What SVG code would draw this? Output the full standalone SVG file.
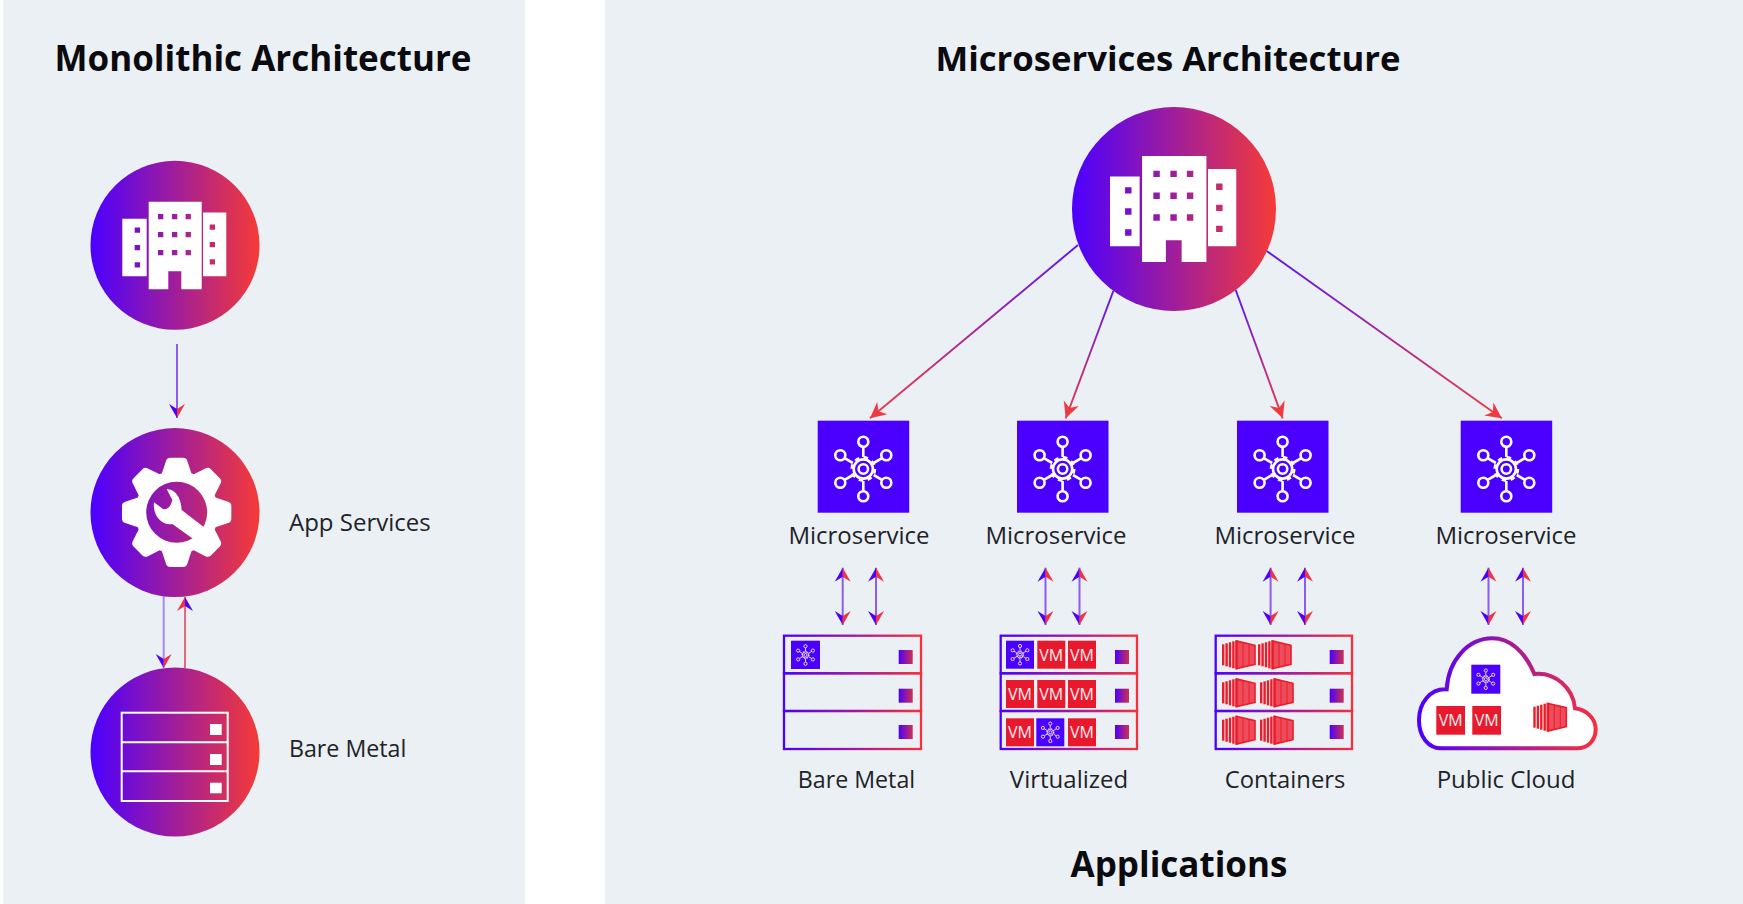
<svg xmlns="http://www.w3.org/2000/svg" xmlns:xlink="http://www.w3.org/1999/xlink" width="1743" height="904" viewBox="0 0 1743 904">
<style>
.panel{fill:#eaf0f4}
.title{font-family:"Open Sans","Liberation Sans",sans-serif;font-weight:700;font-size:35px;fill:#0b0b0f;text-anchor:middle}
.lbl{font-family:"Open Sans","Liberation Sans",sans-serif;font-size:24px;fill:#1f2328}
.sm{font-size:23.2px}
.mid{text-anchor:middle}
.tile{fill:#4b00ff}
.vm{fill:#e8192c}
.vmt{font-family:"Open Sans","Liberation Sans",sans-serif;font-size:16px;fill:#fdeef0;text-anchor:middle}
.srv{fill:none;stroke:url(#gs);stroke-width:2.3}
.led{fill:url(#gl)}
.wh{fill:#fff}
.ol{fill:none;stroke:#fff;stroke-width:2}
.ic{fill:none;stroke:#fff;stroke-width:2.6}
.solid{fill:none;stroke-width:2}
.diag{fill:none;stroke-width:1.9;marker-end:url(#mred)}
.dbl{fill:none;stroke:#8a5cf0;stroke-width:2;marker-start:url(#mstart);marker-end:url(#msplit)}
</style>
<defs>
<linearGradient id="gc" x1="0" y1="0" x2="1" y2="0"><stop offset="0" stop-color="#4b00ff"/><stop offset="1" stop-color="#f53b36"/></linearGradient>
<linearGradient id="gs" x1="0" y1="0" x2="1" y2="0"><stop offset="0" stop-color="#4b00ff"/><stop offset="1" stop-color="#f5303f"/></linearGradient>
<linearGradient id="gl" x1="0" y1="0" x2="1" y2="0"><stop offset="0" stop-color="#4b00ff"/><stop offset="1" stop-color="#d0304f"/></linearGradient>
<linearGradient id="gh" gradientUnits="userSpaceOnUse" x1="90.5" y1="0" x2="259.5" y2="0"><stop offset="0" stop-color="#4b00ff"/><stop offset="1" stop-color="#f53b36"/></linearGradient>
<linearGradient id="d1" gradientUnits="userSpaceOnUse" x1="1078" y1="245" x2="870" y2="418"><stop offset="0" stop-color="#5a14f5"/><stop offset="1" stop-color="#f23c42"/></linearGradient>
<linearGradient id="d2" gradientUnits="userSpaceOnUse" x1="1113" y1="291" x2="1066" y2="418"><stop offset="0" stop-color="#5a14f5"/><stop offset="1" stop-color="#f23c42"/></linearGradient>
<linearGradient id="d3" gradientUnits="userSpaceOnUse" x1="1236" y1="290" x2="1283" y2="418"><stop offset="0" stop-color="#5a14f5"/><stop offset="1" stop-color="#f23c42"/></linearGradient>
<linearGradient id="d4" gradientUnits="userSpaceOnUse" x1="1267" y1="251" x2="1502" y2="418"><stop offset="0" stop-color="#5a14f5"/><stop offset="1" stop-color="#f23c42"/></linearGradient>
<marker id="mred" markerUnits="userSpaceOnUse" markerWidth="1" markerHeight="1" refX="0" refY="0" orient="auto" overflow="visible"><path d="M0 0L-16 -8L-11 0L-16 8Z" fill="#f03a42"/></marker>
<marker id="msplit" markerUnits="userSpaceOnUse" markerWidth="1" markerHeight="1" refX="0" refY="0" orient="auto" overflow="visible"><path d="M0 0L-14 8L-9 0Z" fill="#4b00ff"/><path d="M0 0L-14 -8L-9 0Z" fill="#f5303f"/></marker>
<marker id="mstart" markerUnits="userSpaceOnUse" markerWidth="1" markerHeight="1" refX="0" refY="0" orient="auto" overflow="visible"><path d="M0 0L14 8L9 0Z" fill="#4b00ff"/><path d="M0 0L14 -8L9 0Z" fill="#f5303f"/></marker>
<path id="building" fill="#fff" fill-rule="evenodd" d="M-52.7 -26.7H-28.3V30.7H-52.7ZM-26.3 -43.7H26.7V43.7H6.3V25.7H-6.7V43.7H-26.3ZM28 -33H51.3V30.7H28Z
M-17 -31.6h5.3v5.3h-5.3zM-3 -31.6h5.3v5.3h-5.3zM10.6 -31.6h5.3v5.3h-5.3z
M-17 -13.6h5.3v5.3h-5.3zM-3 -13.6h5.3v5.3h-5.3zM10.6 -13.6h5.3v5.3h-5.3z
M-17 4.4h5.3v5.3h-5.3zM-3 4.4h5.3v5.3h-5.3zM10.6 4.4h5.3v5.3h-5.3z
M-40.3 -18h5.3v5.3h-5.3zM-40.3 -0.6h5.3v5.3h-5.3zM-40.3 16.7h5.3v5.3h-5.3z
M34.7 -21h5.3v5.3h-5.3zM34.7 -3.6h5.3v5.3h-5.3zM34.7 13.7h5.3v5.3h-5.3z"/>
<path id="tooth" fill="#fff" d="M-46 -112L-32 -154Q-29 -164 -19 -164L19 -164Q29 -164 32 -154L46 -112Z"/>
<g id="mic">
<circle class="ic" r="4.7"/>
<circle class="ic" r="9.6"/>
<circle r="11.6" fill="none" stroke="#fff" stroke-width="2.6" stroke-dasharray="4.55 4.55"/>
<path class="ic" d="M0 -12V-22M0 12V22M10.4 -6L18.7 -10.8M10.4 6L18.7 10.8M-10.4 -6L-18.7 -10.8M-10.4 6L-18.7 10.8"/>
<circle class="ic" cy="-27.3" r="5"/><circle class="ic" cy="27.3" r="5"/>
<circle class="ic" cx="23" cy="-13.7" r="5"/><circle class="ic" cx="23" cy="13.7" r="5"/>
<circle class="ic" cx="-23" cy="-13.7" r="5"/><circle class="ic" cx="-23" cy="13.7" r="5"/>
</g>
<g id="box">
<g fill="#ec1c2a">
<rect x="0" y="4" width="2.4" height="21"/><rect x="3.4" y="3" width="2.4" height="23"/><rect x="6.8" y="2" width="2.4" height="25"/><rect x="10.2" y="1" width="2.4" height="27"/><rect x="13.2" y="0" width="2.4" height="29"/>
</g>
<path d="M15 .8L33 5V24L15 28.2Z" fill="#ec4c5c" stroke="#ec1c2a" stroke-width="1.6"/>
<path d="M21 2.5V26.5M27 4V25" stroke="#ec1c2a" stroke-width="1" fill="none"/>
</g>
</defs>

<rect width="1743" height="904" fill="#fff"/>
<rect class="panel" x="3.3" y="0" width="521.7" height="904"/>
<rect class="panel" x="605" y="0" width="1138" height="904"/>

<text class="title" x="263" y="71">Monolithic Architecture</text>
<text class="title" x="1168" y="71" style="font-size:34.7px">Microservices Architecture</text>
<text class="title" x="1179" y="877">Applications</text>

<g id="connectors">
<path class="solid" stroke="#8a5cf0" marker-end="url(#msplit)" d="M177 344V418"/>
<path class="solid" stroke="#a98ae8" marker-end="url(#msplit)" d="M163.7 596V668"/>
<path class="solid" stroke="#e2485c" stroke-width="1.6" style="stroke-width:1.6" marker-end="url(#msplit)" d="M185 668V597"/>
<path class="diag" stroke="url(#d1)" d="M1078 245L870 418.3"/>
<path class="diag" stroke="url(#d2)" d="M1113.3 291L1065.7 418.3"/>
<path class="diag" stroke="url(#d3)" d="M1235.7 290L1282.7 418.3"/>
<path class="diag" stroke="url(#d4)" d="M1266.7 251L1501.8 418.3"/>
<path class="dbl" d="M842.7 567.7V625"/><path class="dbl" d="M876 567.7V625"/>
<path class="dbl" d="M1045.5 567.7V625"/><path class="dbl" d="M1079.5 567.7V625"/>
<path class="dbl" d="M1270.6 567.7V625"/><path class="dbl" d="M1305 567.7V625"/>
<path class="dbl" d="M1488.5 567.7V625"/><path class="dbl" d="M1523 567.7V625"/>
</g>

<g id="mono-client">
<circle cx="175" cy="245.3" r="84.5" fill="url(#gc)"/>
<use href="#building" transform="translate(175 245.5)"/>
</g>
<g id="mono-app">
<circle cx="175" cy="512.6" r="84.5" fill="url(#gc)"/>
<g transform="translate(115 450) scale(.33333)">
<g transform="translate(185 187)">
<circle r="125" fill="#fff"/>
<use href="#tooth"/><use href="#tooth" transform="rotate(45)"/><use href="#tooth" transform="rotate(90)"/><use href="#tooth" transform="rotate(135)"/><use href="#tooth" transform="rotate(180)"/><use href="#tooth" transform="rotate(225)"/><use href="#tooth" transform="rotate(270)"/><use href="#tooth" transform="rotate(315)"/>
</g>
</g>
<circle cx="176.7" cy="512.3" r="30.5" fill="url(#gh)"/>
<path class="wh" transform="translate(115 450) scale(.33333)" d="M155 117C180 118 198 140 200 180L270 234L236 268L172 222C140 228 112 195 117 157L145 178Q165 180 172 150Z"/>
<text class="lbl" x="289" y="531">App Services</text>
</g>
<g id="mono-metal">
<circle cx="175" cy="752" r="84.5" fill="url(#gc)"/>
<rect class="ol" x="121.7" y="712.7" width="106" height="88.3"/>
<path class="ol" d="M121.7 742.3H227.7M121.7 771.3H227.7"/>
<rect class="wh" x="210" y="724" width="11.7" height="11"/><rect class="wh" x="210" y="754" width="11.7" height="11"/><rect class="wh" x="210" y="782.7" width="11.7" height="10.6"/>
<text class="lbl sm" x="289" y="757">Bare Metal</text>
</g>

<g id="micro-client">
<circle cx="1174" cy="209" r="102" fill="url(#gc)"/>
<use href="#building" transform="translate(1174 209) scale(1.214)"/>
</g>

<g id="ms1"><rect class="tile" x="817.7" y="420.7" width="91.5" height="92"/><use href="#mic" transform="translate(863.3 469)"/><text class="lbl mid" x="859" y="544">Microservice</text></g>
<g id="ms2"><rect class="tile" x="1017" y="420.7" width="91.5" height="92"/><use href="#mic" transform="translate(1062.6 469)"/><text class="lbl mid" x="1056" y="544">Microservice</text></g>
<g id="ms3"><rect class="tile" x="1237" y="420.7" width="91.5" height="92"/><use href="#mic" transform="translate(1282.6 469)"/><text class="lbl mid" x="1285" y="544">Microservice</text></g>
<g id="ms4"><rect class="tile" x="1460.7" y="420.7" width="91.5" height="92"/><use href="#mic" transform="translate(1506.3 469)"/><text class="lbl mid" x="1506" y="544">Microservice</text></g>

<g id="host-bare">
<rect class="srv" x="784" y="635.7" width="137" height="37.6"/><rect class="srv" x="784" y="673.3" width="137" height="37.7"/><rect class="srv" x="784" y="711" width="137" height="38"/>
<rect class="led" x="898.7" y="650" width="14" height="14"/><rect class="led" x="898.7" y="688.7" width="14" height="14"/><rect class="led" x="898.7" y="725" width="14" height="14"/>
<rect class="tile" x="791" y="640.7" width="29" height="28.3"/><use href="#mic" transform="translate(805.5 655) scale(.32)"/>
<text class="lbl mid sm" x="856.5" y="787.7">Bare Metal</text>
</g>

<g id="host-virtual">
<rect class="srv" x="1000.7" y="635.7" width="136.3" height="37.6"/><rect class="srv" x="1000.7" y="673.3" width="136.3" height="37.7"/><rect class="srv" x="1000.7" y="711" width="136.3" height="38"/>
<rect class="led" x="1115" y="650" width="14" height="14"/><rect class="led" x="1115" y="688.7" width="14" height="14"/><rect class="led" x="1115" y="725" width="14" height="14"/>
<rect class="tile" x="1006" y="640.7" width="28" height="28"/><use href="#mic" transform="translate(1020 654.7) scale(.32)"/>
<rect class="vm" x="1037.3" y="640.7" width="28" height="28"/><text class="vmt" x="1051.3" y="660.5">VM</text>
<rect class="vm" x="1068" y="640.7" width="28" height="28"/><text class="vmt" x="1082" y="660.5">VM</text>
<rect class="vm" x="1006" y="680" width="28" height="28"/><text class="vmt" x="1020" y="699.8">VM</text>
<rect class="vm" x="1037.3" y="680" width="28" height="28"/><text class="vmt" x="1051.3" y="699.8">VM</text>
<rect class="vm" x="1068" y="680" width="28" height="28"/><text class="vmt" x="1082" y="699.8">VM</text>
<rect class="vm" x="1006" y="718.3" width="28" height="28"/><text class="vmt" x="1020" y="738.1">VM</text>
<rect class="tile" x="1036.3" y="718.3" width="28" height="28"/><use href="#mic" transform="translate(1050.3 732.3) scale(.32)"/>
<rect class="vm" x="1068" y="718.3" width="28" height="28"/><text class="vmt" x="1082" y="738.1">VM</text>
<text class="lbl mid" x="1069" y="787.7">Virtualized</text>
</g>

<g id="host-containers">
<rect class="srv" x="1215.7" y="635.7" width="136.3" height="37.6"/><rect class="srv" x="1215.7" y="673.3" width="136.3" height="37.7"/><rect class="srv" x="1215.7" y="711" width="136.3" height="38"/>
<rect class="led" x="1329.7" y="650" width="14" height="14"/><rect class="led" x="1329.7" y="688.7" width="14" height="14"/><rect class="led" x="1329.7" y="725" width="14" height="14"/>
<use href="#box" transform="translate(1222 640.3)"/><use href="#box" transform="translate(1258 640.3)"/>
<use href="#box" transform="translate(1222 678.3)"/><use href="#box" transform="translate(1260 678.3)"/>
<use href="#box" transform="translate(1222 715.7)"/><use href="#box" transform="translate(1260 715.7)"/>
<text class="lbl mid sm" x="1285" y="787.7" style="font-size:23.8px">Containers</text>
</g>

<g id="host-cloud">
<path transform="translate(1405 620) scale(.33333)" fill="#fff" stroke="url(#gs)" stroke-width="12" d="M110 385L515 385C550 385 572 360 572 328C572 295 545 270 510 265C505 205 450 155 388 162C360 95 315 55 262 55C190 55 130 120 125 208C75 205 42 250 42 300C42 350 70 385 110 385Z"/>
<rect class="tile" x="1471.3" y="664.7" width="29" height="29"/><use href="#mic" transform="translate(1485.8 679.2) scale(.32)"/>
<rect class="vm" x="1436.3" y="706" width="28.7" height="28.7"/><text class="vmt" x="1450.6" y="726">VM</text>
<rect class="vm" x="1472.3" y="706" width="28.7" height="28.7"/><text class="vmt" x="1486.6" y="726">VM</text>
<use href="#box" transform="translate(1533.3 702.7)"/>
<text class="lbl mid" x="1506" y="787.7">Public Cloud</text>
</g>
</svg>
